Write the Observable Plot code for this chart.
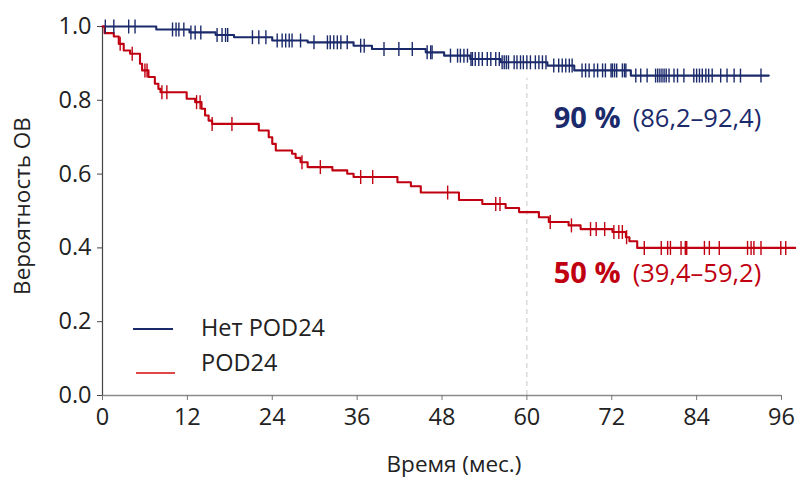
<!DOCTYPE html>
<html>
<head>
<meta charset="utf-8">
<script src="https://cdn.jsdelivr.net/npm/d3@7"></script>
<script src="https://cdn.jsdelivr.net/npm/@observablehq/plot@0.6"></script>
<style>
  body { margin: 0; background: #fff; }
  #wrap { position: relative; width: 796px; height: 480px; font-family: "Open Sans", sans-serif; }
  #legend { position: absolute; left: 133px; top: 313px; font-size: 23.5px; color: #222; }
  .item { position: relative; height: 40px; }
  .item svg { position: absolute; left: 0; }
  .item span { position: absolute; left: 68px; white-space: nowrap; }
</style>
</head>
<body>
<div id="wrap"><div id="legend"></div></div>
<script>
// ---- data ----
const seriesNames = ["Нет POD24", "POD24"];
const seriesColors = ["#1b2a6b", "#c00010"];
const legendColors = ["#1b2a6b", "#e04848"];

const noPodTime = [0, 7.6, 12.3, 16, 18.6, 24, 29, 35.5, 38.1, 45.7, 48.3, 52, 56.3, 62.9, 66.7, 74.7, 94.2];
const noPodSurv = [1.0, 0.992, 0.984, 0.977, 0.971, 0.962, 0.957, 0.948, 0.939, 0.930, 0.921, 0.912, 0.903, 0.894, 0.881, 0.867, 0.867];
const noPodCensor = [0.4, 1.6, 3.7, 4.6, 9.9, 10.4, 10.8, 11.5, 12.5, 13.1, 13.9, 16.2, 16.9, 17.4, 17.7, 21.2, 22.1, 23.1,
  24.7, 25.4, 25.9, 26.4, 26.8, 28, 29.9, 31.8, 32.2, 32.7, 33.2, 33.7, 34.6, 36.5, 37, 39.8, 41.9, 43.8, 45.9, 46.4, 46.6,
  49.2, 50.2, 50.6, 51.1, 51.6, 52.1, 52.3, 52.7, 53.2, 53.7, 54.4, 54.9, 55.6, 56.1, 56.5, 56.8, 57.1, 57.4, 58.2, 58.6,
  59.1, 59.5, 60, 60.5, 61.2, 61.7, 62.2, 62.7, 63.8, 64.5, 65, 65.5, 66, 66.4, 67.8, 68.3, 68.8, 69.5, 70, 70.7, 71.1,
  71.9, 72.1, 72.4, 72.7, 73.5, 73.8, 74, 75.4, 76.1, 77, 78.2, 78.5, 78.8, 79.1, 79.4, 79.7, 80.1, 80.8, 81.3, 82.2,
  83.6, 84, 84.4, 84.8, 85.3, 85.7, 86.2, 87.4, 88.3, 89.3, 90.2, 93.1];

const podTime = [0, 0.3, 1.6, 2.3, 3, 3.9, 5.3, 5.6, 6.5, 7.4, 7.9, 8.2, 11.9, 13.1, 14, 14.5, 15, 15.5, 22.1, 23.5, 24, 24.5,
  26.8, 27.3, 28, 29, 32.5, 34.6, 35.5, 41.7, 43.6, 45, 50.4, 53.7, 57, 58.9, 61.7, 63.1, 65.9, 67.6, 72.1, 74, 74.5, 75.6, 98];
const podSurv = [1.0, 0.982, 0.973, 0.953, 0.935, 0.926, 0.899, 0.881, 0.863, 0.845, 0.831, 0.822, 0.804, 0.795, 0.777, 0.759,
  0.745, 0.736, 0.718, 0.700, 0.682, 0.664, 0.655, 0.644, 0.632, 0.619, 0.610, 0.601, 0.592, 0.578, 0.567, 0.550, 0.530, 0.519,
  0.508, 0.497, 0.483, 0.470, 0.461, 0.451, 0.443, 0.429, 0.418, 0.400, 0.400];
const podCensor = [2.5, 4.2, 6, 6.3, 8.4, 9.1, 13.3, 13.8, 15.5, 18.3, 28.2, 30.8, 36.5, 38.2, 48.8, 55.6, 56.2, 63.3, 66.3,
  69, 69.8, 71, 72.3, 73, 73.5, 74.1, 76.6, 79.0, 79.9, 80.3, 81.8, 82.4, 82.6, 85.1, 85.8, 87.2, 91.2, 91.7, 92.1, 93.1, 95.9, 96.6];

const xTicks = [0, 12, 24, 36, 48, 60, 72, 84, 96];
const yTicks = [0, 0.2, 0.4, 0.6, 0.8, 1.0];
const landmark = [60];
const estimates = ["90 %", "50 %"];
const intervals = ["(86,2–92,4)", "(39,4–59,2)"];

// ---- build tables ----
function steps(times, surv, name) { return times.map((t, i) => ({t, s: surv[i], name})); }
function survAt(times, surv, t) { let v = surv[0]; for (let i = 0; i < times.length; i++) if (times[i] <= t) v = surv[i]; return v; }
const curves = [...steps(noPodTime, noPodSurv, seriesNames[0]), ...steps(podTime, podSurv, seriesNames[1])];
const censors = [
  ...noPodCensor.map(t => ({t, s: survAt(noPodTime, noPodSurv, t), name: seriesNames[0]})),
  ...podCensor.map(t => ({t, s: survAt(podTime, podSurv, t), name: seriesNames[1]}))
];
const vtick = { draw(ctx, size) { const r = Math.sqrt(size / Math.PI); ctx.moveTo(0, -r); ctx.lineTo(0, r); } };

const color = {domain: seriesNames, range: seriesColors};
const font = "Open Sans";

const chart = Plot.plot({
  width: 796, height: 480,
  marginLeft: 102, marginRight: 15, marginTop: 26, marginBottom: 85,
  style: {fontFamily: font, background: "transparent", overflow: "visible"},
  x: {domain: [0, 96]},
  y: {domain: [0, 1]},
  color,
  marks: [
    Plot.ruleX(landmark, {y1: 0, y2: 0.86, stroke: "#c8c8c8", strokeWidth: 1, strokeDasharray: "5,4"}),
    Plot.ruleY([0], {x1: 0, x2: 96, stroke: "#8a8a8a", strokeWidth: 1.5}),
    Plot.ruleX([0], {y1: 0, y2: 1, stroke: "#444", strokeWidth: 1.2}),
    Plot.axisX({ticks: xTicks, tickSize: 5, tickPadding: 8, fontSize: 23.5, stroke: "#777", fill: "#222", label: null}),
    Plot.axisY({ticks: yTicks, tickSize: 5, tickPadding: 6, fontSize: 23.5, tickFormat: d3.format(".1f"), stroke: "#444", fill: "#222", label: null}),
    Plot.line(curves, {x: "t", y: "s", z: "name", stroke: "name", curve: "step-after", strokeWidth: 2.1}),
    Plot.dot(censors, {x: "t", y: "s", stroke: "name", symbol: vtick, r: 7, strokeWidth: 1.4, fill: "none"}),
    Plot.text([estimates[0]], {x: 63.8, y: 0.724, text: d => d, textAnchor: "start", lineAnchor: "bottom", fontSize: 29, fontWeight: "bold", fill: seriesColors[0]}),
    Plot.text([intervals[0]], {x: 63.8, y: 0.724, text: d => d, textAnchor: "start", lineAnchor: "bottom", dx: 79, dy: -1, fontSize: 25.5, fill: seriesColors[0]}),
    Plot.text([estimates[1]], {x: 63.8, y: 0.304, text: d => d, textAnchor: "start", lineAnchor: "bottom", fontSize: 29, fontWeight: "bold", fill: seriesColors[1]}),
    Plot.text([intervals[1]], {x: 63.8, y: 0.304, text: d => d, textAnchor: "start", lineAnchor: "bottom", dx: 79, dy: -1, fontSize: 25.5, fill: seriesColors[1]}),
    Plot.text(["Время (мес.)"], {frameAnchor: "bottom", dx: 12, dy: 76, lineAnchor: "bottom", fontSize: 22.5, fill: "#222"}),
    Plot.text(["Вероятность ОВ"], {frameAnchor: "left", textAnchor: "middle", lineAnchor: "middle", rotate: -90, dx: -80, dy: -5, fontSize: 22.5, fill: "#222"})
  ]
});
document.getElementById("wrap").prepend(chart);
chart.style.position = "absolute"; chart.style.left = "0"; chart.style.top = "0";

// legend (HTML, over the plot)
const legend = document.getElementById("legend");
seriesNames.forEach((n, i) => {
  const d = document.createElement("div");
  d.className = "item";
  const lineY = i === 0 ? 16 : 20;
  d.innerHTML = `<svg width="44" height="40"><line x1="${i === 0 ? 0 : 3}" x2="${i === 0 ? 40 : 42}" y1="${lineY}" y2="${lineY}" stroke="${legendColors[i]}" stroke-width="2.2"/></svg><span style="top:${i === 0 ? -2 : -7}px">${n}</span>`;
  legend.appendChild(d);
});
</script>
</body>
</html>
